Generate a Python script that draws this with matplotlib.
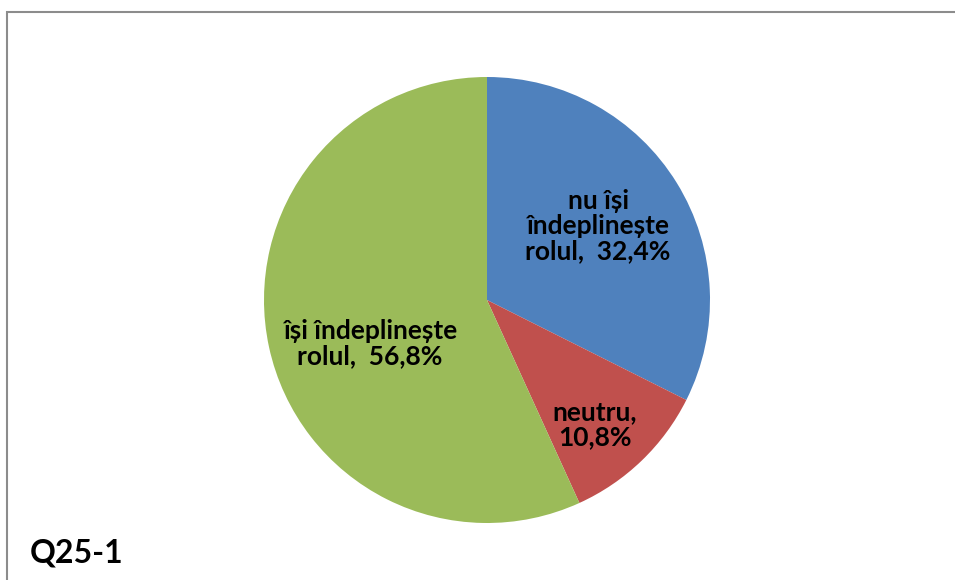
import matplotlib
matplotlib.use("Agg")
import matplotlib.pyplot as plt
from matplotlib.patches import Rectangle

plt.rcParams['font.family'] = ['Lato', 'DejaVu Sans']

categories = ["nu își\nîndeplinește\nrolul,  32,4%", "neutru,\n10,8%", "își îndeplinește\nrolul,  56,8%"]
values = [32.4, 10.8, 56.8]
colors = ["#4F81BD", "#C0504D", "#9BBB59"]
title = "Q25-1"

fig = plt.figure(figsize=(9.55, 5.8), dpi=100)
# outer chart border
fig.add_artist(Rectangle((7/955, -0.05), 1.0, 1 - 12/580 + 0.05, transform=fig.transFigure,
                         fill=False, edgecolor="#8C8C8C", linewidth=1.5))

ax = fig.add_axes([(487-223)/955, (580-523)/580, 446/955, 446/580])
wedges, _ = ax.pie(values, colors=colors, startangle=90, counterclock=False,
                   radius=1.0, wedgeprops=dict(linewidth=0))
ax.set_xlim(-1, 1)
ax.set_ylim(-1, 1)
ax.set_aspect('equal')
ax.axis('off')

label_pos = [(0.498, 0.332), (0.484, -0.56), (-0.525, -0.197)]
for lab, (x, y) in zip(categories, label_pos):
    ax.text(x, y, lab, ha='center', va='center', fontsize=19, fontweight='bold',
            color='black', linespacing=1.07)

fig.text(30/955, 1 - 553/580, title, ha='left', va='center', fontsize=23,
         fontweight='bold', color='black')

fig.savefig("out.png", dpi=100)
